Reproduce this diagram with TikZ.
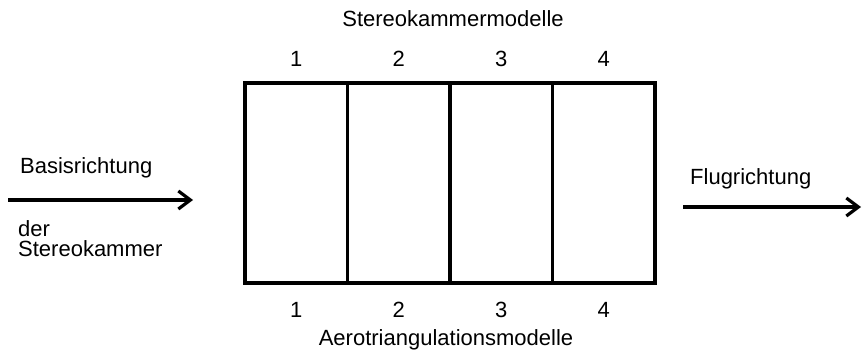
\documentclass[tikz,border=0pt]{standalone}
\usepackage{fontspec}
\setmainfont{Liberation Sans}
\usetikzlibrary{arrows.meta, positioning}

\begin{document}
\begin{tikzpicture}[
  x=1pt, y=-1pt,
  every node/.style={font=\fontsize{22}{26}\selectfont},
  cell/.style={draw, line width=3.2pt, minimum width=102.5pt,
               minimum height=200pt, inner sep=0pt, outer sep=0pt},
  num/.style={inner sep=0pt},
  txt/.style={inner sep=0pt, anchor=base west},
  dir/.style={-{Straight Barb[length=12pt, width=18pt, line width=3.2pt]},
              line width=4pt}
]
  \useasboundingbox (0,0) rectangle (862,355);

  % model strip
  \node[cell, anchor=north west] (c1) at (245,83) {};
  \node[cell, right=0pt of c1] (c2) {};
  \node[cell, right=0pt of c2] (c3) {};
  \node[cell, right=0pt of c3] (c4) {};

  % numbering above and below
  \foreach \i in {1,...,4} {
    \node[num, above=16pt of c\i] (t\i) {\i};
    \node[num, below=19pt of c\i] (b\i) {\i};
  }
  \node (stereo) at (453,19) {Stereokammermodelle};
  \node (aero) at (446,340) {Aerotriangulationsmodelle};

  % left: base direction
  \node[txt] (basis) at (20,174) {Basisrichtung};
  \node[txt] (der) at (18,237) {der};
  \node[txt] (kammer) at (18,257) {Stereokammer};
  \coordinate (lstart) at (8,200);
  \coordinate (lend) at (193,200);
  \draw[dir] (lstart) -- (lend);

  % right: flight direction
  \node[txt] (flug) at (690,185) {Flugrichtung};
  \coordinate (rstart) at (683,207);
  \coordinate (rend) at (861,207);
  \draw[dir] (rstart) -- (rend);
\end{tikzpicture}
\end{document}
